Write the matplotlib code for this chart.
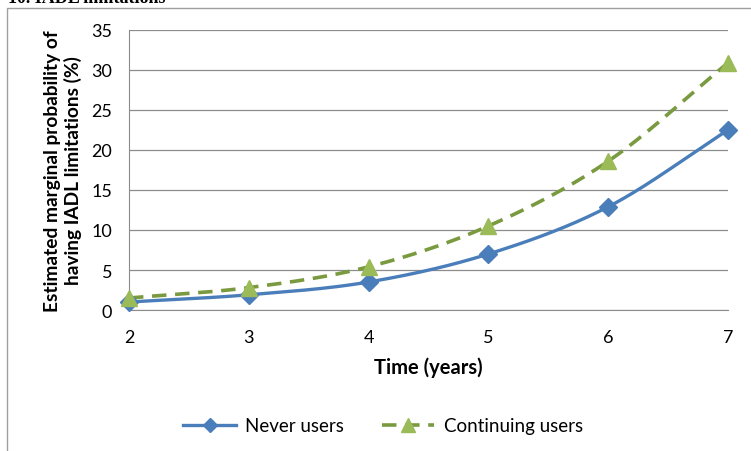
import numpy as np
import matplotlib
matplotlib.use("Agg")
import matplotlib.pyplot as plt
from matplotlib.lines import Line2D
from matplotlib.patches import Rectangle

years = [2, 3, 4, 5, 6, 7]
never_users = [1.0, 1.9, 3.5, 7.0, 12.9, 22.5]
continuing_users = [1.5, 2.8, 5.4, 10.5, 18.6, 30.9]
y_ticks = [0, 5, 10, 15, 20, 25, 30, 35]
series_names = ["Never users", "Continuing users"]

plt.rcParams['font.family'] = ['Lato', 'DejaVu Sans']


def smooth(x, y, n=30):
    """Catmull-Rom style smoothing through the given points."""
    x = np.asarray(x, float)
    y = np.asarray(y, float)
    px = np.concatenate([[2 * x[0] - x[1]], x, [2 * x[-1] - x[-2]]])
    py = np.concatenate([[2 * y[0] - y[1]], y, [2 * y[-1] - y[-2]]])
    xs, ys = [], []
    for i in range(1, len(px) - 2):
        t = np.linspace(0, 1, n, endpoint=False)
        for arr, out in ((px, xs), (py, ys)):
            p0, p1, p2, p3 = arr[i - 1], arr[i], arr[i + 1], arr[i + 2]
            out.append(0.5 * ((2 * p1) + (-p0 + p2) * t
                              + (2 * p0 - 5 * p1 + 4 * p2 - p3) * t ** 2
                              + (-p0 + 3 * p1 - 3 * p2 + p3) * t ** 3))
    xs.append([x[-1]])
    ys.append([y[-1]])
    return np.concatenate(xs), np.concatenate(ys)


W, H = 751, 452
fig = plt.figure(figsize=(W / 100, H / 100), dpi=100)

# outer frame of the chart box
fig.patches.append(Rectangle((7 / W, -0.1), 1.0, 1 - 9 / H + 0.1,
                             transform=fig.transFigure, fill=False,
                             edgecolor="#a0a0a0", linewidth=1.0))
# caption line above the chart (partly cut off by the page edge)
fig.text(8 / W, 1 + 2 / H, "10. IADL limitations", family="Liberation Serif",
         fontweight="bold", fontsize=13, ha="left", va="center")

ax = fig.add_axes([129 / W, 1 - 311 / H, (728 - 129) / W, (311 - 31) / H])
ax.set_xlim(2, 7)
ax.set_ylim(0, 35)
ax.set_yticks(y_ticks)
ax.set_xticks(years)
ax.yaxis.grid(True, color="#8c8c8c", linewidth=0.9)
ax.set_axisbelow(True)
for s in ("top", "right"):
    ax.spines[s].set_visible(False)
ax.spines["left"].set_color("#8c8c8c")
ax.spines["bottom"].set_color("#8c8c8c")
ax.tick_params(axis="both", length=0, labelsize=13, colors="black")
ax.tick_params(axis="x", pad=14)
ax.tick_params(axis="y", pad=12)

blue = "#4a7ebb"
green_line = "#7a9a3f"
green_mark = "#9bbb59"

sx, sy = smooth(years, never_users)
ax.plot(sx, sy, color=blue, linewidth=2.4, clip_on=False, zorder=3)
ax.plot(years, never_users, linestyle="none", marker="D", markersize=9,
        color=blue, clip_on=False, zorder=4)

sx, sy = smooth(years, continuing_users)
ax.plot(sx, sy, color=green_line, linewidth=2.6, dashes=(4, 2.4),
        clip_on=False, zorder=3)
ax.plot(years, continuing_users, linestyle="none", marker="^", markersize=12,
        color=green_mark, clip_on=False, zorder=4)

ax.set_xlabel("Time (years)", fontsize=14.5, fontweight="bold", labelpad=8)
ax.set_ylabel("Estimated marginal probability of\nhaving IADL limitations (%)",
              fontsize=13.8, fontweight="bold", labelpad=7, linespacing=1.15)

handles = [
    Line2D([], [], color=blue, linewidth=2.4, marker="D", markersize=7),
    Line2D([], [], color=green_line, linewidth=2.6, dashes=(4, 2.4),
           marker="^", markersize=10, markerfacecolor=green_mark,
           markeredgecolor=green_mark),
]
fig.legend(handles, series_names, loc="center", ncol=2, frameon=False,
           bbox_to_anchor=(0.51, 1 - 427 / H), fontsize=13.5, handlelength=2.8,
           columnspacing=2.0, handletextpad=0.5)

fig.savefig("out.png", dpi=100)
